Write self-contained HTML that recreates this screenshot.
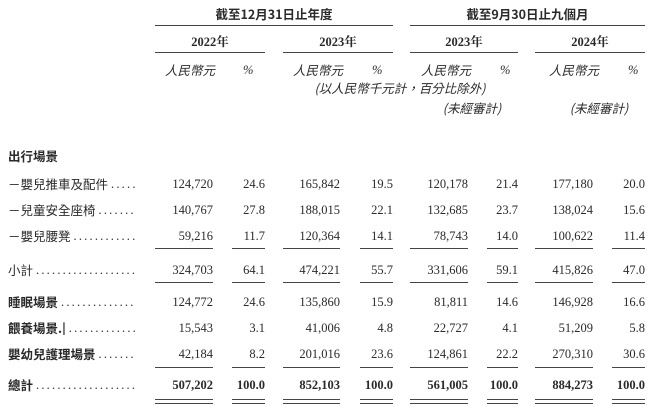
<!DOCTYPE html>
<html><head><meta charset="utf-8"><style>
body{margin:0;width:660px;height:417px;background:#fff;position:relative;overflow:hidden;font-family:"Liberation Serif","Noto Serif CJK SC","Noto Sans CJK TC",serif;color:#2a2a2a;font-size:12.5px}
.t{position:absolute;white-space:nowrap;line-height:14px}
.r{position:absolute;text-align:right;white-space:nowrap;line-height:14px}
.c{position:absolute;text-align:center;white-space:nowrap;line-height:14px}
.l{position:absolute;height:1.3px;background:#444}
.b{font-weight:bold}
.i{font-style:italic}
.cj{font-family:"Noto Sans CJK TC","Noto Sans CJK SC",sans-serif;font-size:12.5px}
.lab{position:absolute;left:8px;width:128px;display:flex;overflow:hidden;white-space:nowrap;line-height:14px}
.dots{flex:1;overflow:hidden;font-family:"Liberation Serif",serif;letter-spacing:2.2px;font-weight:normal;padding-left:3px}
</style></head><body>
<div class="c b cj" style="left:155px;width:238px;top:7px">截至12月31日止年度</div>
<div class="c b cj" style="left:410px;width:235px;top:7px">截至9月30日止九個月</div>
<div class="l" style="left:155px;width:238px;top:25px"></div>
<div class="l" style="left:410px;width:235px;top:25px"></div>
<div class="c b" style="left:155px;width:110px;top:35px">2022年</div>
<div class="c b" style="left:283px;width:110px;top:35px">2023年</div>
<div class="c b" style="left:410px;width:108px;top:35px">2023年</div>
<div class="c b" style="left:535px;width:110px;top:35px">2024年</div>
<div class="l" style="left:155px;width:110px;top:52px"></div>
<div class="l" style="left:283px;width:110px;top:52px"></div>
<div class="l" style="left:410px;width:108px;top:52px"></div>
<div class="l" style="left:535px;width:110px;top:52px"></div>
<div class="t i cj" style="left:165px;top:63px">人民幣元</div><div class="t i" style="left:243px;top:63px">%</div>
<div class="t i cj" style="left:293px;top:63px">人民幣元</div><div class="t i" style="left:372px;top:63px">%</div>
<div class="t i cj" style="left:421px;top:63px">人民幣元</div><div class="t i" style="left:500px;top:63px">%</div>
<div class="t i cj" style="left:549px;top:63px">人民幣元</div><div class="t i" style="left:628px;top:63px">%</div>
<div class="c i cj" style="left:300px;width:200px;top:81px">(以人民幣千元計，百分比除外)</div>
<div class="c i cj" style="left:432px;width:80px;top:101px">(未經審計)</div>
<div class="c i cj" style="left:559px;width:80px;top:101px">(未經審計)</div>

<div class="t b cj" style="left:8px;top:149px">出行場景</div>
<div id="rows"></div>
<script>
const X=[213,265,340,393,468,518,593,645];
const rows=[
["－嬰兒推車及配件",177,["124,720","24.6","165,842","19.5","120,178","21.4","177,180","20.0"]],
["－兒童安全座椅",203,["140,767","27.8","188,015","22.1","132,685","23.7","138,024","15.6"]],
["－嬰兒腰凳 ",229,["59,216","11.7","120,364","14.1","78,743","14.0","100,622","11.4"]],
["小計 ",263,["324,703","64.1","474,221","55.7","331,606","59.1","415,826","47.0"]],
["睡眠場景",295,["124,772","24.6","135,860","15.9","81,811","14.6","146,928","16.6"],1],
["餵養場景.|",321,["15,543","3.1","41,006","4.8","22,727","4.1","51,209","5.8"],1],
["嬰幼兒護理場景",347,["42,184","8.2","201,016","23.6","124,861","22.2","270,310","30.6"],1],
["總計 ",378,["507,202","100.0","852,103","100.0","561,005","100.0","884,273","100.0"],1,1]];
let h='';
for(const r of rows){
 h+=`<div class="lab cj${r[3]?' b':''}" style="top:${r[1]}px"><span>${r[0]}</span><span class="dots">......................................</span></div>`;
 r[2].forEach((v,i)=>{h+=`<div class="r${r[4]?' b':''}" style="right:${660-X[i]}px;top:${r[1]}px">${v}</div>`;});
}
const segs=[[155,213],[232,265],[283,340],[360,393],[410,468],[487,518],[535,593],[612,645]];
function line(y){segs.forEach(s=>{h+=`<div class="l" style="left:${s[0]}px;width:${s[1]-s[0]}px;top:${y}px"></div>`});}
line(248);line(282);line(367);line(399);line(403);
document.getElementById('rows').outerHTML=h;
</script>
</body></html>
